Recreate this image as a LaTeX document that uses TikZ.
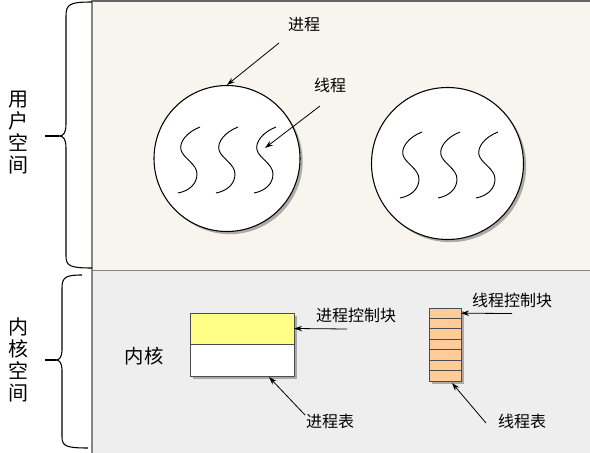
\documentclass[tikz,border=0pt]{standalone}
\usepackage{fontspec}
\setmainfont{Noto Sans CJK SC}
\usepackage{tikz}
\usetikzlibrary{positioning,arrows.meta,shadows,calc}
\usepackage{xcolor}
\definecolor{userbg}{HTML}{F8F5EE}
\definecolor{kernbg}{HTML}{EEEEEE}
\definecolor{pcbyellow}{HTML}{FFFF88}
\definecolor{tcborange}{HTML}{FFCC99}
\definecolor{edgegray}{HTML}{858585}

\begin{document}
\begin{tikzpicture}[x=0.75pt,y=-0.75pt,>={Stealth[length=6pt,width=4pt]},
  lbl/.style={font=\fontsize{12}{14}\selectfont,inner sep=1pt},
  side/.style={font=\fontsize{15}{16.5}\selectfont,align=center,inner sep=0pt},
  ptr/.style={->,line width=0.6pt},
  brc/.style={line width=0.8pt},
  castshadow/.style={drop shadow={shadow xshift=2pt,shadow yshift=-2pt,fill=black!45,opacity=0.7}},
  proc/.style={circle,draw,line width=0.8pt,fill=white,castshadow,inner sep=0pt},
  thread/.style={line width=0.7pt},
  cell/.style={draw=black!70,line width=0.75pt,inner sep=0pt,outer sep=0pt}]
\useasboundingbox (0,0) rectangle (590,453);
% panels
\fill[userbg] (92,0) rectangle (590,270);
\fill[kernbg] (92,270) rectangle (590,453);
\draw[edgegray,line width=0.75pt] (92,270) -- (590,270);
\draw[edgegray,line width=0.9pt] (92,0) -- (92,453);
\draw[black!60,line width=1.5pt] (92,1) -- (590,1);
% braces
\draw[brc] (92,2) .. controls (70,2) and (66,4) .. (66,16) -- (66,124)
  .. controls (66,132) and (64,136) .. (59,136) .. controls (64,136) and (66,140) .. (66,148)
  -- (66,256) .. controls (66,266) and (70,268) .. (92,268);
\draw[brc] (45,136) -- (59,136);
\draw[brc] (82,275) .. controls (66,275) and (62,277) .. (62,288) -- (62,350)
  .. controls (62,356) and (60,360) .. (56,360) .. controls (60,360) and (62,364) .. (62,370)
  -- (62,437) .. controls (62,446) and (66,448) .. (88,448);
\draw[brc] (45,360) -- (56,360);
\node[side] (luser) at (18.5,132.5) {用\\户\\空\\间};
\node[side] (lkspace) at (18.5,359.5) {内\\核\\空\\间};
% processes
\node[proc,minimum size=109.5pt] (p1) at (227,158.5) {};
\node[proc,minimum size=114pt] (p2) at (447.5,163.5) {};
\foreach \cx/\cy in {189/160,227/160,265/160,411/165,449/165,487/165}
  \draw[thread,shift={(\cx,\cy)}] (11,-33) .. controls (-2,-28) and (-10,-18) .. (-8,-10)
    .. controls (-6,-2) and (8,4) .. (8,14) .. controls (8,24) and (0,31) .. (-11,33);
\node[lbl] (lproc) at (304,25) {进程};
\node[lbl] (lthr) at (330,85) {线程};
\coordinate (aproc) at (279,43);
\coordinate (athr) at (320,106);
\coordinate (tthr) at (265,148);
\draw[ptr] (aproc) -- (p1.north);
\draw[ptr] (athr) -- (tthr);
% kernel
\node[font=\fontsize{14.5}{16}\selectfont] (lkern) at (144,356) {内核};
\node[cell,fill=pcbyellow,castshadow,minimum width=78pt,minimum height=23.25pt] (pcb) at (242,328.5) {};
\node[cell,fill=white,castshadow,minimum width=78pt,minimum height=24pt,below=0pt of pcb] (pslot) {};
\node[cell,fill=tcborange,castshadow,minimum width=24pt,minimum height=54.75pt] (ttab) at (445,344.5) {};
\foreach \i in {1,...,6}
  \draw[black!70,line width=0.75pt] ($(ttab.north west)!\i/7!(ttab.south west)$) -- ($(ttab.north east)!\i/7!(ttab.south east)$);
\node[lbl] (lpcb) at (356,315) {进程控制块};
\node[lbl] (lptab) at (330,421) {进程表};
\node[lbl] (ltcb) at (512,300) {线程控制块};
\node[lbl] (lttab) at (522,421) {线程表};
\coordinate (apcb) at (347,329);
\coordinate (aptab) at (305,415);
\coordinate (tptab) at (269,377);
\coordinate (atcb) at (512,313.5);
\coordinate (ttcb) at ($(ttab.north east)!0.5/7!(ttab.south east)$);
\coordinate (attab) at (486,423);
\coordinate (tttab) at (452,383);
\draw[ptr] (apcb) -- (pcb.east);
\draw[ptr] (aptab) -- (tptab);
\draw[ptr] (atcb) -- (ttcb);
\draw[ptr] (attab) -- (tttab);
\end{tikzpicture}
\end{document}
